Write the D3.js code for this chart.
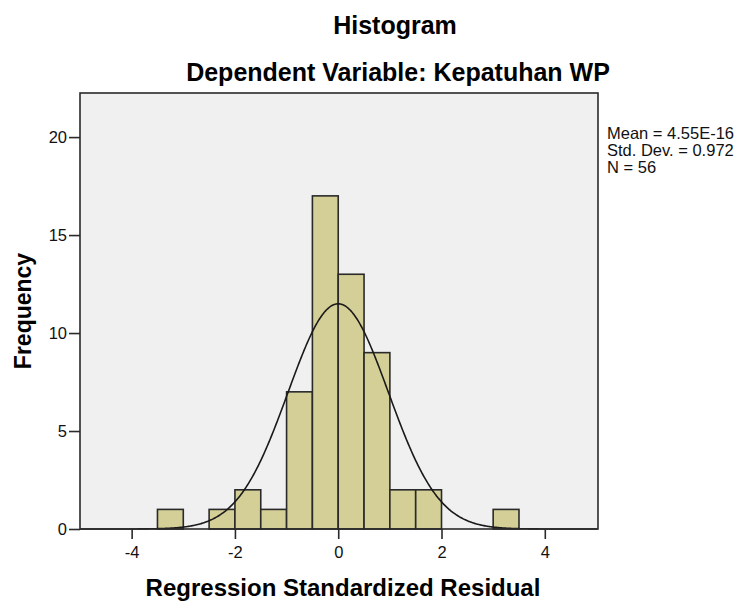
<!DOCTYPE html>
<html>
<head>
<meta charset="utf-8">
<script src="https://cdn.jsdelivr.net/npm/d3@7"></script>
<style>
  body { margin: 0; background: #fff; }
  text { font-family: "Liberation Sans", Arial, sans-serif; }
</style>
</head>
<body>
<div id="graph"></div>
<script>
// bins of the residuals (width 0.5) and their counts
var binStarts = [-3.5, -2.5, -2, -1.5, -1, -0.5, 0, 0.5, 1, 1.5, 3];
var binCounts = [1, 1, 2, 1, 7, 17, 13, 9, 2, 2, 1];
var binWidth = 0.5;
var xTicks = [-4, -2, 0, 2, 4];
var yTicks = [0, 5, 10, 15, 20];
// stats printed on the right
var mean = 4.55e-16, stdDev = 0.972, nObs = 56;
var statLines = ["Mean = 4.55E-16", "Std. Dev. = 0.972", "N = 56"];

var W = 739, H = 601;
var margin = {top: 93, right: 141, bottom: 72, left: 80},
    width = W - margin.left - margin.right,
    height = H - margin.top - margin.bottom;

var svg = d3.select("#graph").append("svg")
    .attr("width", W).attr("height", H);

var g = svg.append("g")
    .attr("transform", "translate(" + margin.left + "," + margin.top + ")");

var x = d3.scaleLinear().domain([-5, 5.03]).range([0, width]);
var y = d3.scaleLinear().domain([0, 22.25]).range([height, 0]);

// plot background
g.append("rect")
    .attr("width", width).attr("height", height)
    .attr("fill", "#f0f0f0");

// bars
g.selectAll(".bar")
    .data(binStarts)
    .enter().append("rect")
    .attr("class", "bar")
    .attr("x", function(d) { return x(d); })
    .attr("width", function(d) { return x(d + binWidth) - x(d); })
    .attr("y", function(d, i) { return y(binCounts[i]); })
    .attr("height", function(d, i) { return y(0) - y(binCounts[i]); })
    .attr("fill", "#d4cf97")
    .attr("stroke", "#2a2a2a")
    .attr("stroke-width", 1.6);

// normal curve from the stats
var pts = d3.range(-5, 5.031, 0.02);
var peak = nObs * binWidth / (stdDev * Math.sqrt(2 * Math.PI));
var curve = d3.line()
    .x(function(d) { return x(d); })
    .y(function(d) { return y(peak * Math.exp(-0.5 * Math.pow((d - mean) / stdDev, 2))); })
    .curve(d3.curveBasis);
g.append("path")
    .datum(pts)
    .attr("d", curve)
    .attr("fill", "none")
    .attr("stroke", "#1a1a1a")
    .attr("stroke-width", 1.6);

// frame
g.append("rect")
    .attr("width", width).attr("height", height)
    .attr("fill", "none")
    .attr("stroke", "#2a2a2a")
    .attr("stroke-width", 1.6);

// axes
var xaxis = g.append("g")
    .attr("transform", "translate(0," + height + ")")
    .call(d3.axisBottom(x).tickValues(xTicks).tickSize(10).tickPadding(7).tickSizeOuter(0)
      .tickFormat(function(d) { return String(d); }));
var yaxis = g.append("g")
    .call(d3.axisLeft(y).tickValues(yTicks).tickSize(11).tickPadding(2).tickSizeOuter(0)
      .tickFormat(function(d) { return String(d); }));
[xaxis, yaxis].forEach(function(a) {
  a.select(".domain").remove();
  a.selectAll("line").attr("stroke", "#2a2a2a").attr("stroke-width", 1.6);
  a.selectAll("text")
    .style("font-family", "'Liberation Sans', Arial, sans-serif")
    .style("font-size", "16.5px")
    .attr("fill", "#111");
});

// titles
svg.append("text")
    .attr("x", 395).attr("y", 34)
    .attr("text-anchor", "middle")
    .style("font-size", "25px").style("font-weight", "bold")
    .text("Histogram");
svg.append("text")
    .attr("x", 398).attr("y", 81)
    .attr("text-anchor", "middle")
    .style("font-size", "25px").style("font-weight", "bold")
    .text("Dependent Variable: Kepatuhan WP");

// axis labels
svg.append("text")
    .attr("x", 343).attr("y", 596)
    .attr("text-anchor", "middle")
    .style("font-size", "24px").style("font-weight", "bold")
    .text("Regression Standardized Residual");
svg.append("text")
    .attr("transform", "translate(31,311) rotate(-90)")
    .attr("text-anchor", "middle")
    .style("font-size", "23px").style("font-weight", "bold")
    .text("Frequency");

// stats box text
svg.selectAll(".stat")
    .data(statLines)
    .enter().append("text")
    .attr("class", "stat")
    .attr("x", 607)
    .attr("y", function(d, i) { return 139 + i * 17; })
    .style("font-size", "16.5px")
    .attr("fill", "#111")
    .text(function(d) { return d; });
</script>
</body>
</html>
